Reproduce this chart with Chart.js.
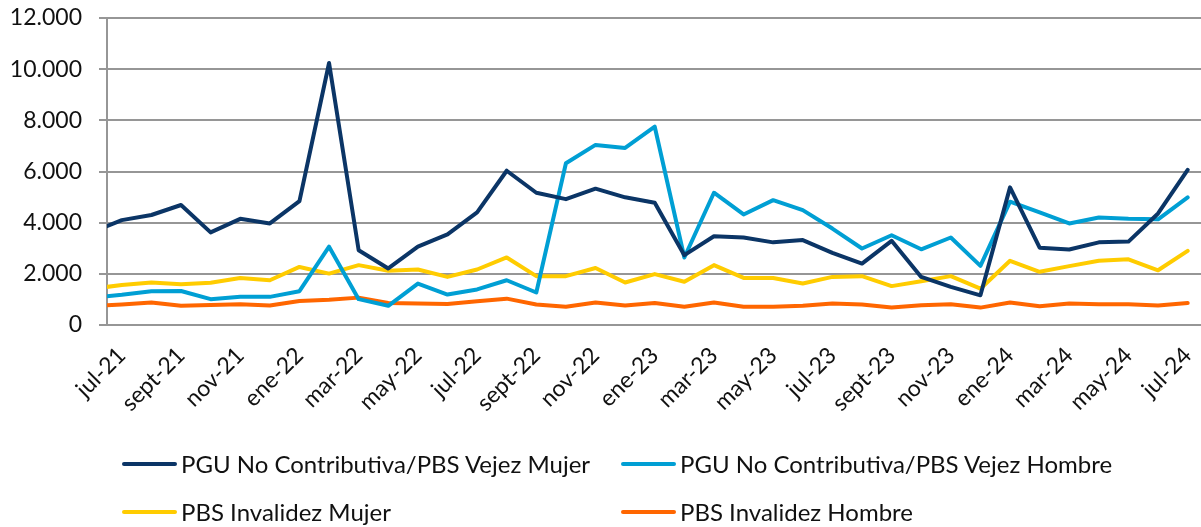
<!DOCTYPE html>
<html>
<head>
<meta charset="utf-8">
<script src="https://cdn.jsdelivr.net/npm/chart.js@4.4.1/dist/chart.umd.min.js"></script>
<style>
  html, body { margin: 0; padding: 0; background: #ffffff; }
  #wrap { position: relative; width: 1201px; height: 527px; overflow: hidden; }
  #c { position: absolute; left: 0; top: 0; }
  .sw { position: absolute; height: 4px; border-radius: 2px; width: 55px; }
  .lt { position: absolute; font-family: Lato, "Open Sans", sans-serif; font-size: 24px; line-height: 28px; color: #111; white-space: nowrap; }
</style>
</head>
<body>
<div id="wrap">
  <canvas id="c" width="1201" height="527"></canvas>
  <div id="legend"></div>
</div>
<script>
// Months (first entry precedes the visible axis start and is clipped at the left edge)
const months = ['jun-21','jul-21','ago-21','sept-21','oct-21','nov-21','dic-21',
  'ene-22','feb-22','mar-22','abr-22','may-22','jun-22','jul-22','ago-22','sept-22','oct-22','nov-22','dic-22',
  'ene-23','feb-23','mar-23','abr-23','may-23','jun-23','jul-23','ago-23','sept-23','oct-23','nov-23','dic-23',
  'ene-24','feb-24','mar-24','abr-24','may-24','jun-24','jul-24'];

const seriesNames = [
  'PGU No Contributiva/PBS Vejez Mujer',
  'PGU No Contributiva/PBS Vejez Hombre',
  'PBS Invalidez Mujer',
  'PBS Invalidez Hombre'
];

const pguMujer = [3630, 4100, 4300, 4690, 3620, 4150, 3970, 4840, 10240, 2920, 2210, 3060, 3540, 4400,
  6030, 5170, 4920, 5330, 4990, 4780, 2730, 3470, 3420, 3230, 3320, 2820, 2400, 3290, 1880, 1490, 1160,
  5380, 3020, 2950, 3230, 3260, 4360, 6060];

const pguHombre = [1070, 1180, 1320, 1330, 1010, 1100, 1100, 1320, 3060, 1010, 750, 1620, 1190, 1390,
  1750, 1270, 6320, 7040, 6920, 7750, 2640, 5170, 4320, 4880, 4490, 3770, 2990, 3510, 2960, 3420, 2310,
  4820, 4400, 3970, 4200, 4150, 4130, 4990];

const pbsInvMujer = [1420, 1560, 1660, 1590, 1650, 1840, 1750, 2270, 2010, 2340, 2120, 2170, 1880, 2170,
  2640, 1910, 1910, 2230, 1660, 1990, 1690, 2340, 1840, 1840, 1620, 1880, 1910, 1520, 1710, 1910, 1420,
  2510, 2080, 2300, 2510, 2570, 2140, 2900];

const pbsInvHombre = [740, 800, 880, 750, 780, 810, 760, 940, 990, 1070, 860, 840, 820, 930,
  1030, 800, 710, 880, 760, 860, 710, 880, 710, 710, 750, 840, 800, 680, 770, 810, 680,
  880, 730, 840, 810, 810, 760, 860];

// Tick labels shown on the x axis (every second month from jul-21)
const xTickLabels = ['jul-21','sept-21','nov-21','ene-22','mar-22','may-22','jul-22','sept-22','nov-22',
  'ene-23','mar-23','may-23','jul-23','sept-23','nov-23','ene-24','mar-24','may-24','jul-24'];

const yTicks = [0, 2000, 4000, 6000, 8000, 10000, 12000];

const colors = ['#0b3566', '#009fd4', '#ffcc00', '#ff6600'];
const seriesValues = [pguMujer, pguHombre, pbsInvMujer, pbsInvHombre];

// month position relative to jul-21
const baseIndex = months.indexOf('jul-21');
const toPoints = arr => arr.map((v, i) => ({ x: i - baseIndex, y: v }));
const tickPositions = xTickLabels.map(l => months.indexOf(l) - baseIndex);

const fmt = v => String(Math.round(v)).replace(/\B(?=(\d{3})+(?!\d))/g, '.');

const FONT = 'Lato';

const chart = new Chart(document.getElementById('c'), {
  type: 'line',
  data: {
    datasets: seriesValues.map((vals, k) => ({
      label: seriesNames[k],
      data: toPoints(vals),
      borderColor: colors[k],
      backgroundColor: colors[k],
      borderWidth: 4,
      pointRadius: 0,
      pointHoverRadius: 0,
      tension: 0,
      borderJoinStyle: 'round',
      borderCapStyle: 'round',
      fill: false,
      clip: { left: 0, top: 6, right: 6, bottom: 6 }
    }))
  },
  options: {
    responsive: false,
    animation: false,
    devicePixelRatio: 1,
    layout: { padding: { top: 18, right: 0, bottom: 0, left: 0 } },
    plugins: {
      legend: { display: false },
      tooltip: { enabled: false },
      title: { display: false }
    },
    scales: {
      x: {
        type: 'linear',
        min: -0.5,
        max: 36.45,
        grid: { display: false, drawTicks: false },
        border: { display: false },
        afterBuildTicks: s => { s.ticks = tickPositions.map(v => ({ value: v })); },
        afterFit: s => { s.height = 202; s.paddingLeft = 0; s.paddingRight = 0; },
        ticks: {
          autoSkip: false,
          minRotation: 45,
          maxRotation: 45,
          padding: 20,
          color: '#111',
          font: { family: FONT, size: 23, lineHeight: 0.8 },
          callback: v => xTickLabels[tickPositions.indexOf(v)]
        }
      },
      y: {
        min: 0,
        max: 12000,
        afterBuildTicks: s => { s.ticks = yTicks.map(v => ({ value: v })); },
        afterFit: s => { s.width = 107; s.paddingTop = 0; s.paddingBottom = 0; },
        grid: { color: '#969696', lineWidth: 2, drawTicks: true, tickLength: 8, tickColor: '#969696' },
        border: { display: true, color: '#969696', width: 2 },
        ticks: {
          padding: 17,
          color: '#111',
          font: { family: FONT, size: 23 },
          callback: v => fmt(v)
        }
      }
    }
  }
});

// Legend (2 x 2 grid, like the original)
const legendPos = [
  { sx: 122, tx: 181, cy: 464 },
  { sx: 621, tx: 680, cy: 464 },
  { sx: 122, tx: 181, cy: 512 },
  { sx: 621, tx: 680, cy: 512 }
];
const leg = document.getElementById('legend');
seriesNames.forEach((name, k) => {
  const p = legendPos[k];
  const sw = document.createElement('div');
  sw.className = 'sw';
  sw.style.left = p.sx + 'px';
  sw.style.top = (p.cy - 2) + 'px';
  sw.style.background = colors[k];
  leg.appendChild(sw);
  const t = document.createElement('div');
  t.className = 'lt';
  t.style.left = p.tx + 'px';
  t.style.top = (p.cy - 14) + 'px';
  t.textContent = name;
  leg.appendChild(t);
});
</script>
</body>
</html>
